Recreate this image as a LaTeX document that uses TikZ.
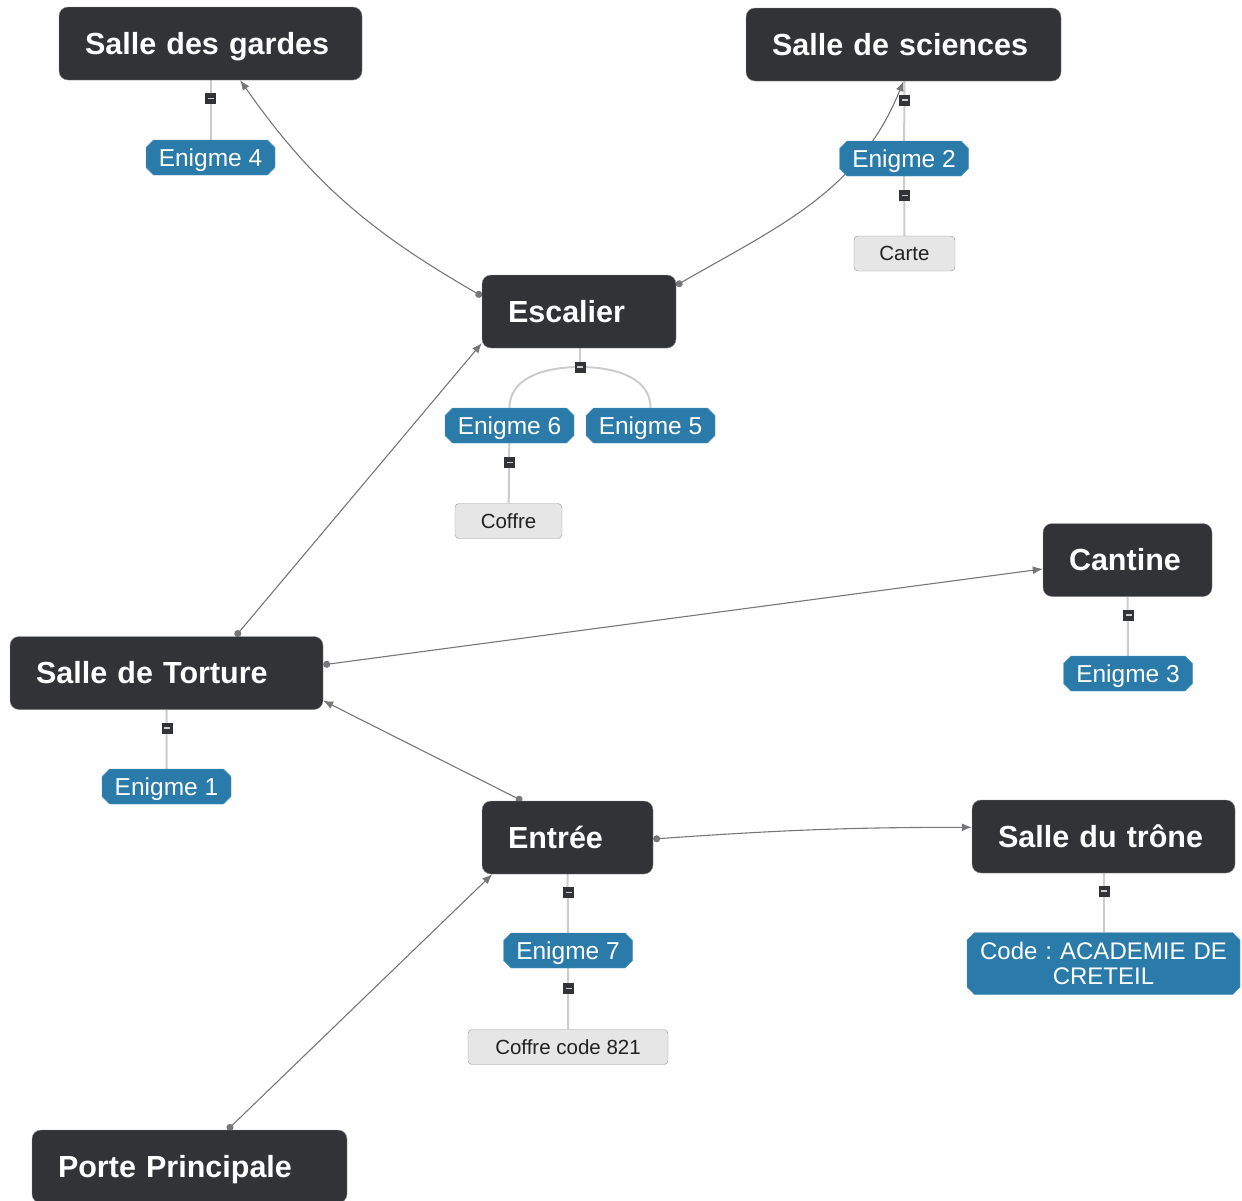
\documentclass[tikz,border=0pt]{standalone}
\usepackage{fontspec}
\setmainfont{Liberation Sans}
\usepackage{tikz}
\usetikzlibrary{arrows.meta,backgrounds,shapes.misc}
\definecolor{roomfill}{HTML}{323337}
\definecolor{roomline}{HTML}{8C8C8C}
\definecolor{puzzle}{HTML}{2A7BAA}
\definecolor{puzzleline}{HTML}{4C8FBA}
\definecolor{itemfill}{HTML}{E6E6E6}
\definecolor{itemline}{HTML}{9A9A9A}
\definecolor{itemtext}{HTML}{222222}
\definecolor{branch}{HTML}{CCCCCC}
\definecolor{linkgray}{HTML}{777777}

\begin{document}
\begin{tikzpicture}[x=1pt,y=1pt,>=Latex,
    room/.style={rounded corners=9pt,draw=roomline,fill=roomfill,text=white,
      font=\fontsize{30.5}{34}\selectfont\bfseries,align=left,inner xsep=26pt,
      inner ysep=0pt,minimum height=73pt,text height=21.8pt,text depth=0pt},
    riddle/.style={chamfered rectangle,chamfered rectangle xsep=4pt,draw=puzzleline,
      fill=puzzle,text=white,font=\fontsize{24.5}{25}\selectfont,inner sep=0pt,
      minimum width=129pt,minimum height=35pt},
    item/.style={rounded corners=4pt,draw=itemline,fill=itemfill,text=itemtext,
      font=\fontsize{20.5}{24}\selectfont,inner sep=0pt,minimum height=35pt,
      text height=14.7pt,text depth=0pt},
    toggle/.style={fill=roomfill,minimum width=11pt,minimum height=11pt,inner sep=0pt,
      path picture={\draw[branch,line width=1.8pt]
        ([xshift=-3pt]path picture bounding box.center) --
        ([xshift=3pt]path picture bounding box.center);}},
    branchline/.style={branch,line width=2pt},
    move/.style={linkgray,line width=1.1pt,{Circle[length=7pt]}-{Latex[length=10pt,width=8pt]}}]
  \useasboundingbox (0,0) rectangle (1242,-1200);

  \node[room,text width=251pt] (gardes) at (210.5,-43.5) {Salle des gardes};
  \node[room,text width=263pt] (sciences) at (903.5,-44.5) {Salle de sciences};
  \node[room,text width=142pt] (escalier) at (579,-311.5) {Escalier};
  \node[room,text width=117pt] (cantine) at (1127.5,-560) {Cantine};
  \node[room,text width=261pt] (torture) at (166.5,-673) {Salle de Torture};
  \node[room,text width=119pt] (entree) at (567.5,-837.5) {Entrée};
  \node[room,text width=211pt] (trone) at (1103.5,-836.5) {Salle du trône};
  \node[room,text width=263pt] (porte) at (189.5,-1166.5) {Porte Principale};

  \node[riddle,text height=17.5pt,text depth=0pt] (enigme4) at (210.5,-157.5) {Enigme 4};
  \node[riddle,text height=17.5pt,text depth=0pt] (enigme2) at (904,-158.5) {Enigme 2};
  \node[riddle,text height=17.5pt,text depth=0pt] (enigme6) at (509.5,-425.5) {Enigme 6};
  \node[riddle,text height=17.5pt,text depth=0pt] (enigme5) at (650.5,-425.5) {Enigme 5};
  \node[riddle,text height=17.5pt,text depth=0pt] (enigme3) at (1128,-673.5) {Enigme 3};
  \node[riddle,text height=17.5pt,text depth=0pt] (enigme1) at (166.5,-786.5) {Enigme 1};
  \node[riddle,text height=17.5pt,text depth=0pt] (enigme7) at (568,-950.5) {Enigme 7};
  \node[riddle,text width=258pt,align=center,minimum width=273pt,minimum height=62pt,
    font=\fontsize{24}{25}\selectfont] (code) at (1103.5,-963.5) {Code :\ ACADEMIE DE\\CRETEIL};

  \node[item,minimum width=101pt] (carte) at (904.5,-253.5) {Carte};
  \node[item,minimum width=107pt] (coffre) at (508.5,-521) {Coffre};
  \node[item,minimum width=200pt] (coffrecode) at (568,-1047) {Coffre code 821};

  \node[toggle] (tgardes) at (210.5,-98.5) {};
  \node[toggle] (tsciences) at (904.5,-100) {};
  \node[toggle] (tenigme2) at (904.5,-195.5) {};
  \node[toggle] (tescalier) at (580,-367) {};
  \node[toggle] (tenigme6) at (509.5,-462.5) {};
  \node[toggle] (tcantine) at (1128.5,-615) {};
  \node[toggle] (ttorture) at (167,-728) {};
  \node[toggle] (tentree) at (568.5,-892.5) {};
  \node[toggle] (tenigme7) at (568.5,-988.5) {};
  \node[toggle] (ttrone) at (1104,-891) {};

  \begin{scope}[on background layer]
    \draw[branchline] (gardes) -- (enigme4);
    \draw[branchline] (tsciences.center |- sciences.south) -- (enigme2);
    \draw[branchline] (enigme2) -- (carte);
    \draw[branchline] (tescalier.center |- escalier.south) -- (tescalier.center);
    \draw[branchline] (enigme6.north) to[out=90,in=180] (tescalier.center)
      to[out=0,in=90] (enigme5.north);
    \draw[branchline] (enigme6) -- (coffre);
    \draw[branchline] (cantine) -- (enigme3);
    \draw[branchline] (torture) -- (enigme1);
    \draw[branchline] (entree) -- (enigme7);
    \draw[branchline] (enigme7) -- (coffrecode);
    \draw[branchline] (trone) -- (code);

    \draw[move] (escalier.171.5) to[out=150,in=-55] (gardes.309);
    \draw[move] (escalier.15.8) to[out=30,in=-112] (sciences.south);
    \draw[move] (torture.28.7) -- (escalier.198);
    \draw[move] (torture.3.7) -- (cantine.186.8);
    \draw[move] (entree.141.9) -- (torture.350.6);
    \draw[move] (entree.-1) to[out=4,in=180] (trone.176.3);
    \draw[move] (porte.44.2) -- (entree.206.1);
  \end{scope}
\end{tikzpicture}
\end{document}
